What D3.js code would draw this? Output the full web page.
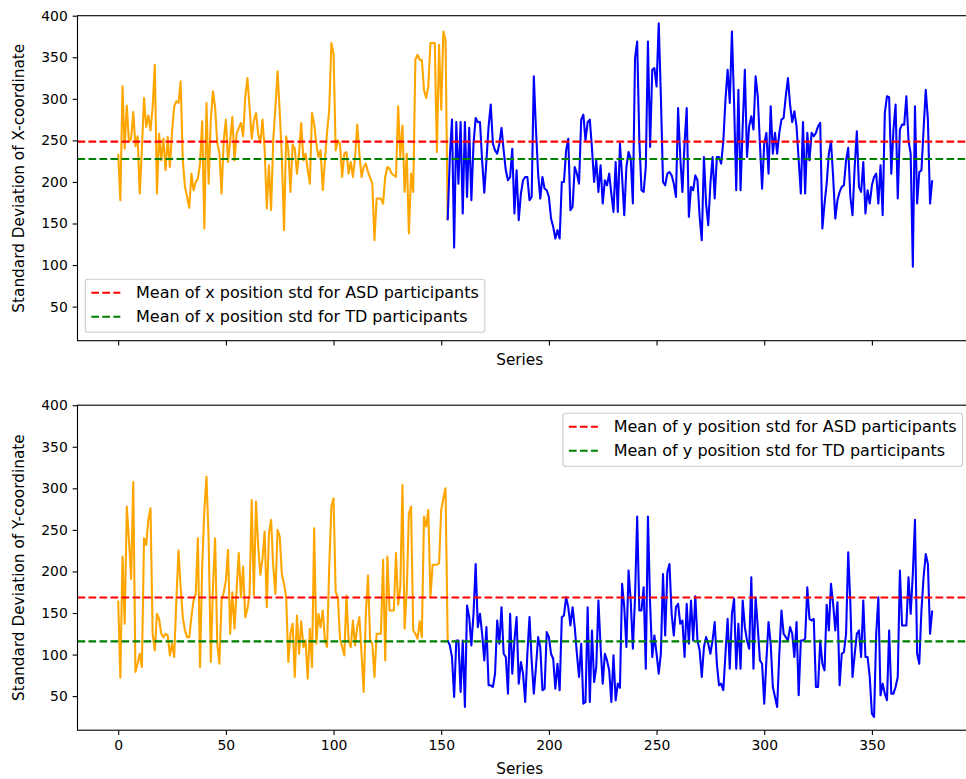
<!DOCTYPE html>
<html><head><meta charset="utf-8">
<script src="https://cdn.jsdelivr.net/npm/d3@7"></script>
<style>body{margin:0;background:#fff;overflow:hidden} text{font-family:"DejaVu Sans",sans-serif;fill:#000}</style>
</head><body><svg id="c" width="966" height="779"></svg>
<script>
// ---- data ----
const xTicks = [0, 50, 100, 150, 200, 250, 300, 350];
const yTicks = [50, 100, 150, 200, 250, 300, 350, 400];
const tdStart = 153;           // index where the TD series begins
const xStdASD = [
234,178,315,240,292,248,252,284,243,255,
186,240,301,266,280,262,290,341,186,258,
226,252,214,254,218,260,291,297,295,321,
226,194,182,169,210,190,200,204,222,273,
144,295,198,275,309,290,247,235,186,250,
275,224,250,278,226,258,265,271,255,302,
325,290,252,274,283,258,247,275,240,168,
220,166,250,290,333,285,230,142,255,238,
188,245,240,210,235,271,226,234,215,198,
283,270,246,230,238,190,226,260,287,367,
355,238,250,246,206,234,236,210,224,206,
230,269,234,206,218,222,212,205,198,130,
180,180,180,174,206,218,216,210,208,206,
291,230,268,188,234,138,210,188,347,353,
347,347,311,301,315,367,367,367,236,365,
287,381,371,154];
const xStdTD = [
154,
230,275,121,272,198,272,162,272,182,265,
178,246,277,272,272,226,187,226,267,293,
246,238,234,246,265,238,214,202,206,240,
162,214,154,186,202,206,206,178,182,327,
263,210,180,206,192,190,182,156,146,132,
142,132,200,200,238,252,166,170,218,210,
198,275,281,250,272,275,241,200,226,188,
220,174,202,196,210,186,164,224,164,246,
206,160,218,236,228,174,349,369,250,190,
188,218,369,242,335,337,315,391,303,200,
196,210,212,208,198,182,289,230,188,246,
289,158,194,190,208,202,158,130,230,174,
148,198,230,180,230,230,222,249,299,335,
295,381,295,190,311,190,267,335,230,267,
279,263,327,303,246,192,246,259,210,291,
234,259,234,259,275,277,303,325,293,272,
285,267,226,186,272,186,259,226,259,255,
259,267,271,144,174,198,234,249,206,156,
178,188,194,196,226,241,182,160,218,261,
194,188,224,162,190,174,196,206,210,174,
220,160,283,303,302,210,263,293,180,263,
269,269,303,250,234,98,291,174,212,214,
263,311,275,174,202];
const yStdASD = [
165,72,218,137,278,238,191,308,79,89,
101,85,240,232,262,276,125,105,149,143,
125,121,125,123,99,113,97,165,225,181,
145,129,121,121,145,165,173,240,85,206,
274,314,238,91,181,240,113,89,165,175,
189,226,125,175,131,179,222,169,206,145,
155,173,286,171,284,230,196,215,248,157,
246,262,206,173,250,242,197,185,169,91,
125,137,73,147,101,140,109,117,71,131,
85,252,113,149,133,153,117,109,206,278,
288,175,169,119,109,99,171,117,109,141,
111,133,145,101,55,149,195,117,113,73,
125,125,125,214,93,218,153,153,153,222,
160,181,304,131,177,270,278,129,125,119,
140,121,266,254,274,169,208,208,208,210,
274,288,300,117];
const yStdTD = [
117,
111,97,49,117,117,55,117,37,159,145,
111,149,209,133,149,125,93,133,63,63,
61,77,141,113,157,101,97,53,149,77,
117,145,65,91,77,43,101,145,93,53,
85,121,109,57,59,127,121,101,95,59,
89,57,145,147,169,157,135,157,133,101,
73,113,41,43,157,43,129,67,85,165,
110,65,101,93,81,43,99,45,65,60,
185,157,109,201,165,107,169,266,153,153,
181,83,266,161,97,123,101,77,101,197,
123,199,209,149,123,157,161,137,141,97,
161,113,165,117,170,117,105,73,109,121,
113,101,117,139,89,63,65,57,101,143,
83,149,167,83,137,83,165,133,117,107,
193,83,169,133,93,89,41,93,139,113,
61,49,37,101,153,125,121,117,133,125,
97,139,51,117,117,119,181,143,141,143,
61,61,117,89,81,160,129,185,161,129,
163,63,101,103,125,223,161,73,100,125,
129,97,165,97,97,73,29,25,125,169,
51,65,53,45,129,53,53,61,73,201,
135,135,135,193,149,197,262,101,89,153,
193,221,209,125,153];
const meanX = [248.5, 227.6];   // ASD, TD
const meanY = [168.6, 115.9];
const legendX = ["Mean of x position std for ASD participants", "Mean of x position std for TD participants"];
const legendY = ["Mean of y position std for ASD participants", "Mean of y position std for TD participants"];
const xLabel = "Series";
const yLabelX = "Standard Deviation of X-coordinate";
const yLabelY = "Standard Deviation of Y-coordinate";

// ---- layout ----
const svg = d3.select("#c");
const FS = 13.9, FSL = 15.3, FSLEG = 16, TICK = 4.86, PAD = 4.86;
const axL = 77.5, axR = 972.9;
const x = d3.scaleLinear().domain([-18.9, 396.9]).range([axL, axR]);

function panel(cfg) {
  const y = d3.scaleLinear().domain([9, 400]).range([cfg.bottom, cfg.top]);
  const g = svg.append("g");
  const cid = "clip" + cfg.id;
  svg.append("clipPath").attr("id", cid).append("rect")
    .attr("x", axL).attr("y", cfg.top).attr("width", axR - axL).attr("height", cfg.bottom - cfg.top);
  const plot = g.append("g").attr("clip-path", `url(#${cid})`);
  const line = d3.line().x(d => x(d[0])).y(d => y(d[1]));
  const asd = cfg.asd.map((v, i) => [i, v]);
  const td = cfg.td.map((v, i) => [tdStart + i, v]);
  plot.append("path").datum(asd).attr("d", line).attr("fill", "none")
    .attr("stroke", "#ffa500").attr("stroke-width", 2.08).attr("stroke-linejoin", "round");
  plot.append("path").datum(td).attr("d", line).attr("fill", "none")
    .attr("stroke", "#0000ff").attr("stroke-width", 2.08).attr("stroke-linejoin", "round");
  const colors = ["#ff0000", "#008000"];
  cfg.means.forEach((m, k) => {
    plot.append("line").attr("x1", axL).attr("x2", axR).attr("y1", y(m)).attr("y2", y(m))
      .attr("stroke", colors[k]).attr("stroke-width", 2.08).attr("stroke-dasharray", "7.7,3.3");
  });
  // axes
  const xa = d3.axisBottom(x).tickValues(xTicks).tickSize(TICK).tickPadding(PAD)
    .tickFormat(cfg.showXLabels ? d3.format("d") : () => "");
  const gx = g.append("g").attr("transform", `translate(0,${cfg.bottom})`).call(xa);
  const ya = d3.axisLeft(y).tickValues(yTicks).tickSize(TICK).tickPadding(PAD).tickFormat(d3.format("d"));
  const gy = g.append("g").attr("transform", `translate(${axL},0)`).call(ya);
  [gx, gy].forEach(a => {
    a.select(".domain").remove();
    a.selectAll(".tick line").attr("stroke", "#000").attr("stroke-width", 1.1);
    a.selectAll(".tick text").style("font-family", '"DejaVu Sans",sans-serif')
      .style("font-size", FS + "px").attr("fill", "#000");
  });
  g.append("rect").attr("x", axL).attr("y", cfg.top).attr("width", axR - axL)
    .attr("height", cfg.bottom - cfg.top).attr("fill", "none").attr("stroke", "#000").attr("stroke-width", 1.1);
  g.append("text").attr("x", (axL + axR) / 2 - 5.5).attr("y", cfg.xLabelY).attr("text-anchor", "middle")
    .style("font-size", FSL + "px").text(xLabel);
  g.append("text").attr("transform", `translate(23.5,${(cfg.top + cfg.bottom) / 2}) rotate(-90)`)
    .attr("text-anchor", "middle").style("font-size", FSL + "px").text(cfg.ylabel);
  // legend
  const lg = g.append("g");
  const box = lg.append("rect").attr("rx", 2.8).attr("ry", 2.8)
    .attr("fill", "#fff").attr("fill-opacity", 0.8).attr("stroke", "#cccccc").attr("stroke-width", 1.1);
  const texts = cfg.legend.map((t, k) => lg.append("text").style("font-size", FSLEG + "px").text(t));
  const tw = d3.max(texts, t => t.node().getComputedTextLength());
  const bw = 50.7 + tw + 6, bh = 53;
  const bx = cfg.legendRight ? cfg.legendRight - bw : cfg.legendLeft;
  const by = cfg.legendTop;
  box.attr("x", bx).attr("y", by).attr("width", bw).attr("height", bh);
  cfg.legend.forEach((t, k) => {
    const ry = by + 13.5 + k * 24;
    lg.append("line").attr("x1", bx + 6).attr("x2", bx + 35).attr("y1", ry).attr("y2", ry)
      .attr("stroke", colors[k]).attr("stroke-width", 2.08).attr("stroke-dasharray", "7.7,3.3");
    texts[k].attr("x", bx + 50.7).attr("y", ry + 5.5);
  });
}

panel({id: 1, top: 15.7, bottom: 340.7, asd: xStdASD, td: xStdTD, means: meanX,
  legend: legendX, ylabel: yLabelX, showXLabels: false, xLabelY: 365,
  legendLeft: 85.3, legendTop: 279.3});
panel({id: 2, top: 405.2, bottom: 730.2, asd: yStdASD, td: yStdTD, means: meanY,
  legend: legendY, ylabel: yLabelY, showXLabels: true, xLabelY: 773.5,
  legendRight: 962.5, legendTop: 413.3});
</script></body></html>
